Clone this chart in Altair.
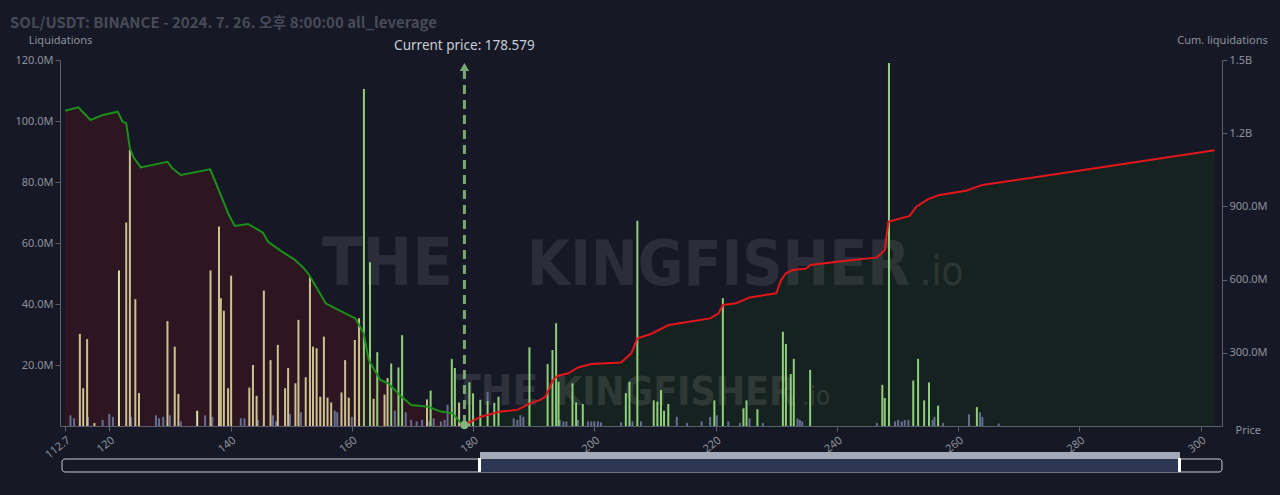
import altair as alt
import pandas as pd
import jinja2

TITLE = "SOL/USDT: BINANCE - 2024. 7. 26. 오후 8:00:00 all_leverage"
CURRENT_PRICE = 178.579
PRICE_LABEL = "Current price: 178.579"

# liquidation bars (price, millions)
long_bars = [(115.15, 30.2), (115.7, 12.4), (116.35, 28.5), (117.55, 1.0), (122.8, 66.7), (123.4, 90.5),
             (124.3, 41.6), (124.9, 10.8), (129.6, 34.4), (130.8, 26.0), (131.4, 10.5), (136.7, 51.0),
             (138.1, 65.4), (138.4, 41.9), (138.9, 37.8), (139.6, 12.4), (140.1, 49.3), (143.1, 12.6),
             (143.7, 20.0), (144.3, 9.9), (145.5, 44.4), (146.6, 21.6), (147.8, 26.6), (149.0, 12.4),
             (149.5, 19.0), (150.7, 14.0), (151.2, 34.8), (152.4, 16.0), (153.1, 49.0), (153.6, 26.0),
             (154.2, 25.5), (154.8, 9.6), (155.4, 29.3), (156.0, 9.3), (156.6, 7.7), (158.3, 11.0),
             (158.9, 21.6), (159.5, 9.3), (160.5, 28.2), (161.2, 35.3), (163.6, 8.9), (165.4, 10.3),
             (165.9, 15.7), (172.4, 8.7), (177.7, 7.7)]
pale_bars = [(121.6, 51.0), (134.5, 5.0)]
short_bars = [(162.0, 110.5), (163.0, 53.7), (164.2, 24.2), (166.5, 20.5), (167.7, 19.2), (168.3, 29.8),
              (173.0, 11.6), (176.5, 22.0), (177.0, 19.0), (179.4, 14.3), (180.0, 10.7), (181.2, 8.6),
              (182.4, 8.2), (183.5, 7.6), (184.2, 9.6), (189.3, 25.8), (192.3, 20.3), (193.1, 24.9),
              (193.7, 33.7), (194.1, 14.5), (196.4, 14.0), (197.0, 7.7), (198.1, 7.2), (205.2, 10.8),
              (205.8, 14.5), (207.1, 67.3), (209.8, 8.4), (210.4, 8.0), (211.0, 11.8), (211.5, 5.0),
              (212.2, 7.2), (219.8, 8.4), (221.2, 41.9), (224.6, 5.8), (225.1, 8.4), (226.9, 5.5),
              (231.1, 30.9), (231.6, 26.9), (232.4, 17.0), (232.9, 22.0), (235.6, 18.4), (247.5, 13.5),
              (247.9, 9.2), (248.6, 119.0), (252.6, 14.9), (253.4, 22.0), (254.4, 8.4), (255.2, 14.3),
              (256.7, 6.7), (263.1, 6.2)]
small_bars = [(113.6, 3.5), (114.2, 2.5), (116.5, 3.0), (118.9, 2.0), (120.0, 4.0), (120.6, 3.0),
              (123.6, 3.0), (127.7, 3.5), (128.2, 2.5), (128.9, 3.0), (130.0, 3.5), (131.8, 1.5),
              (135.8, 3.5), (137.0, 3.0), (141.7, 2.5), (142.3, 2.5), (144.5, 2.0), (147.0, 3.5),
              (147.5, 1.5), (149.8, 4.0), (151.6, 4.5), (157.2, 5.0), (157.6, 4.5), (160.0, 3.0),
              (167.1, 5.0), (168.9, 4.5), (169.8, 2.0), (170.7, 1.5), (171.6, 2.0), (172.8, 1.5),
              (173.5, 2.5), (174.7, 1.5), (175.3, 2.0), (175.8, 7.0), (182.4, 3.0), (186.7, 2.5),
              (187.3, 2.0), (187.8, 3.5), (188.3, 3.0), (194.3, 2.0), (194.9, 1.5), (195.4, 1.5),
              (197.3, 2.0), (198.95, 1.5), (199.5, 1.5), (200.0, 1.5), (200.6, 1.5), (201.1, 1.2),
              (204.4, 1.2), (206.3, 1.5), (207.7, 1.5), (213.6, 3.0), (215.3, 1.0), (217.7, 1.5),
              (219.1, 3.0), (220.2, 3.5), (222.1, 1.5), (224.0, 1.0), (225.6, 2.5), (227.8, 1.0),
              (233.5, 2.5), (233.9, 2.0), (234.3, 1.5), (246.6, 1.0), (249.6, 1.5), (250.1, 2.0),
              (250.7, 1.5), (251.2, 2.0), (251.8, 2.0), (255.8, 2.0), (256.1, 3.0), (257.5, 1.0),
              (261.8, 3.8), (263.6, 4.5), (264.0, 3.0), (266.7, 0.8)]

# cumulative liquidations (price, millions)
cum_long = [(112.7, 1292), (114.9, 1306), (116.9, 1254), (119.0, 1275), (121.4, 1288), (122.2, 1247),
            (122.8, 1241), (123.4, 1138), (124.0, 1101), (125.2, 1060), (129.6, 1083), (130.4, 1056),
            (131.8, 1029), (136.65, 1052), (137.5, 1001), (138.5, 940), (139.6, 872), (140.7, 820),
            (142.9, 828), (145.35, 792), (146.2, 755), (148.3, 718), (150.5, 683), (151.9, 652),
            (152.98, 619), (155.7, 503), (157.3, 482), (160.6, 441), (161.96, 380), (162.8, 270),
            (164.7, 189), (166.0, 175), (168.2, 120), (169.8, 86), (172.6, 79), (174.7, 59),
            (176.65, 52), (178.28, 4), (178.579, 0)]
cum_short = [(178.579, 0), (179.1, 11), (181.3, 38), (184.5, 59), (187.3, 66), (189.4, 93), (191.1, 107),
             (192.0, 122), (192.6, 155), (193.1, 185), (193.9, 205), (195.7, 216), (197.3, 240),
             (199.5, 254), (204.4, 260), (206.1, 298), (207.1, 359), (209.3, 377), (212.3, 414),
             (216.4, 430), (219.1, 441), (220.5, 462), (221.2, 496), (223.4, 503), (225.6, 527),
             (230.0, 544), (230.8, 598), (231.6, 626), (232.7, 639), (234.9, 645), (235.7, 660),
             (240.05, 673), (246.6, 691), (247.9, 721), (248.5, 837), (252.0, 861), (253.1, 899),
             (255.0, 929), (256.9, 947), (261.3, 964), (264.0, 988), (272.7, 1019), (302.3, 1130)]

x_ticks = [112.7, 120, 140, 160, 180, 200, 220, 240, 260, 280, 300]
left_ticks = [20, 40, 60, 80, 100, 120]
right_ticks = [300, 600, 900, 1200, 1500]

BG = "#161925"
AXC = "#8d919c"
W, H = 1162, 366

PAGE = jinja2.Template("""<!DOCTYPE html>
<html>
<head>
<meta charset="utf-8">
<style>html, body { background: #161925; }</style>
<script type="text/javascript" src="{{ base_url }}/vega@{{ vega_version }}"></script>
<script type="text/javascript" src="{{ base_url }}/vega-lite@{{ vegalite_version }}"></script>
<script type="text/javascript" src="{{ base_url }}/vega-embed@{{ vegaembed_version }}"></script>
</head>
<body>
<div id="{{ output_div }}"></div>
<script type="text/javascript">
  (function(vegaEmbed) {
    var spec = {{ spec }};
    var embedOpt = {{ embed_options }};
    vegaEmbed("#{{ output_div }}", spec, embedOpt).catch(console.error);
  })(vegaEmbed);
</script>
</body>
</html>""")

bars = pd.concat([
    pd.DataFrame(small_bars, columns=["price", "val"]).assign(c="#646d92"),
    pd.DataFrame(long_bars, columns=["price", "val"]).assign(c="#cbc28f"),
    pd.DataFrame(pale_bars, columns=["price", "val"]).assign(c="#d6e3a6"),
    pd.DataFrame(short_bars, columns=["price", "val"]).assign(c="#8fcf7a"),
], ignore_index=True)
cl = pd.DataFrame(cum_long, columns=["price", "cum"])
cs = pd.DataFrame(cum_short, columns=["price", "cum"])
one = pd.DataFrame({"k": [0]})

xscale = alt.Scale(domain=[112.7, 302.7], nice=False, zero=False)
xaxis = alt.Axis(values=x_ticks, labelAngle=-38, labelAlign="right", labelBaseline="top",
                 labelExpr="'' + datum.value", labelFlush=False, labelPadding=3, tickSize=5,
                 title="Price", titleX=1175, titleY=4, titleAlign="left", titleBaseline="middle",
                 titleAngle=0, grid=False)
yl_scale = alt.Scale(domain=[0, 120], nice=False)
yr_scale = alt.Scale(domain=[0, 1500], nice=False)
left_axis = alt.Axis(orient="left", values=left_ticks, labelExpr="format(datum.value, '.1f') + 'M'",
                     title="Liquidations", titleAngle=0, titleX=0, titleY=-20, titleAlign="center",
                     titleBaseline="middle", grid=False, tickSize=5)
right_axis = alt.Axis(orient="right", values=right_ticks,
                      labelExpr="datum.value >= 1000 ? format(datum.value / 1000, '.1f') + 'B' : format(datum.value, '.1f') + 'M'",
                      title="Cum. liquidations", titleAngle=0, titleX=0, titleY=-20, titleAlign="center",
                      titleBaseline="middle", grid=False, tickSize=5)


def X():
    return alt.X("price:Q", scale=xscale, axis=xaxis)


area_long = alt.Chart(cl).mark_area(color="#2d1621", opacity=1).encode(
    x=X(), y=alt.Y("cum:Q", scale=yr_scale, axis=None))
area_short = alt.Chart(cs).mark_area(color="#16221f", opacity=1).encode(
    x=X(), y=alt.Y("cum:Q", scale=yr_scale, axis=right_axis))

wm_font = "DejaVu Sans Condensed, DejaVu Sans, sans-serif"


def wm(text, x, y, size, weight="bold", op=0.09):
    return alt.Chart(one).mark_text(text=text, align="left", baseline="alphabetic", fontSize=size,
                                    fontWeight=weight, font=wm_font, color="white", opacity=op).encode(
        x=alt.value(x), y=alt.value(y))


watermarks = [
    wm("THE", 262, 225, 66), wm("KINGFISHER", 467, 225, 62), wm(".io", 860, 225, 40, "normal"),
    wm("THE", 395, 345, 42, op=0.1), wm("KINGFISHER", 495, 345, 39, op=0.1),
    wm(".io", 742, 345, 26, "normal", 0.1),
]

bar_layer = alt.Chart(bars).mark_bar(size=2).encode(
    x=X(), y=alt.Y("val:Q", scale=yl_scale, axis=left_axis), color=alt.Color("c:N", scale=None))

line_long = alt.Chart(cl).mark_line(color="#1b8f1b", strokeWidth=2).encode(
    x=X(), y=alt.Y("cum:Q", scale=yr_scale, axis=None))
line_short = alt.Chart(cs).mark_line(color="#e3161b", strokeWidth=2).encode(
    x=X(), y=alt.Y("cum:Q", scale=yr_scale, axis=None))

price_rule = alt.Chart(one).mark_rule(color="#7aa872", strokeWidth=3, strokeDash=[9, 6]).encode(
    x=alt.datum(CURRENT_PRICE), y=alt.value(10), y2=alt.value(H))
price_arrow = alt.Chart(one).mark_point(shape="triangle-up", filled=True, color="#7aa872", size=90, opacity=1).encode(
    x=alt.datum(CURRENT_PRICE), y=alt.value(7))
price_dot = alt.Chart(one).mark_point(shape="circle", filled=True, color="#86b57f", size=70, opacity=1).encode(
    x=alt.datum(CURRENT_PRICE), y=alt.value(H - 1))
price_text = alt.Chart(one).mark_text(text=PRICE_LABEL, fontSize=13.5, fontWeight="normal", font="Noto Sans",
                                      color="#c9ccd4", baseline="middle").encode(
    x=alt.datum(CURRENT_PRICE), y=alt.value(-14))

title_text = alt.Chart(one).mark_text(text=TITLE, align="left", baseline="middle", fontSize=15,
                                      fontWeight="bold", font="Noto Sans CJK KR", color="#474b57").encode(
    x=alt.value(-50), y=alt.value(-37))

slider_outline = alt.Chart(one).mark_rect(fill=BG, stroke="#c8ccd6", strokeWidth=1, cornerRadius=3).encode(
    x=alt.value(2), x2=alt.value(1162), y=alt.value(399), y2=alt.value(412))
slider_sel = alt.Chart(one).mark_rect(fill="#2c3652").encode(
    x=alt.value(420), x2=alt.value(1120), y=alt.value(399), y2=alt.value(412))
slider_top = alt.Chart(one).mark_rect(fill="#a4a9ba").encode(
    x=alt.value(420), x2=alt.value(1120), y=alt.value(392), y2=alt.value(399))
slider_h1 = alt.Chart(one).mark_rect(fill="#ffffff", cornerRadius=1).encode(
    x=alt.value(418), x2=alt.value(421), y=alt.value(398), y2=alt.value(412))
slider_h2 = alt.Chart(one).mark_rect(fill="#ffffff", cornerRadius=1).encode(
    x=alt.value(1118), x2=alt.value(1121), y=alt.value(398), y2=alt.value(412))

chart = alt.layer(
    area_long, area_short, *watermarks, bar_layer, line_long, line_short,
    price_rule, price_arrow, price_dot, price_text, title_text,
    slider_outline, slider_sel, slider_top, slider_h1, slider_h2,
).resolve_scale(y="independent").properties(
    width=W, height=H, background=BG,
    autosize=alt.AutoSizeParams(type="none"),
    padding={"left": 52, "top": 52, "right": 50, "bottom": 61},
).configure_view(stroke=None).configure_axis(
    labelColor=AXC, titleColor=AXC, domainColor="#5c606d", tickColor="#5c606d",
    labelFont="Noto Sans", titleFont="Noto Sans", labelFontSize=11, titleFontSize=11,
    titleFontWeight="normal", grid=False,
)

chart.save("out.html", embed_options={"renderer": "svg", "actions": False}, template=PAGE)
